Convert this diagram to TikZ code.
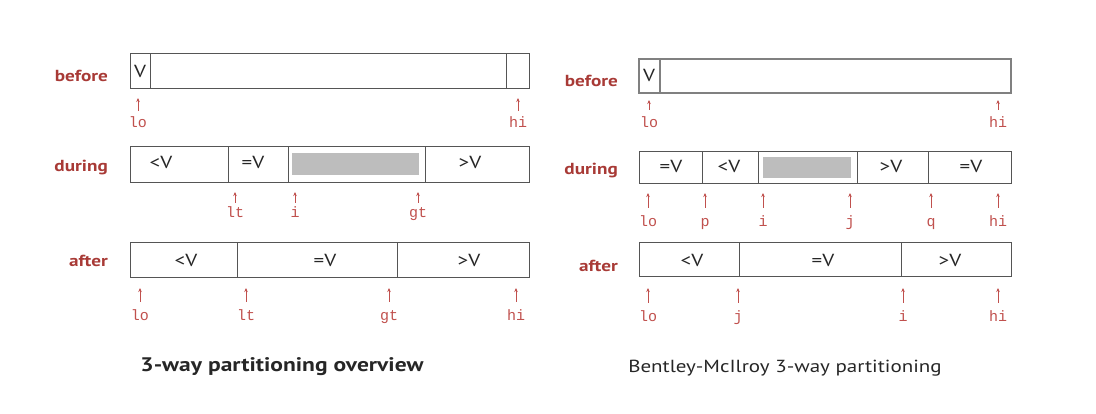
\documentclass[tikz,border=0pt]{standalone}
\usepackage{fontspec}
\setmainfont[FakeStretch=1.2]{PT Sans}
\newfontfamily\monof{Liberation Mono}
\usetikzlibrary{arrows.meta}
\definecolor{rowred}{HTML}{A83A36}
\definecolor{idxred}{HTML}{C0504D}
\definecolor{boxc}{HTML}{555555}
\definecolor{grayc}{HTML}{BDBDBD}
\begin{document}
\begin{tikzpicture}[x=1pt,y=-1pt,
  cell/.style={draw=boxc, line width=1pt, anchor=north west, inner sep=0pt, outer sep=0pt},
  grayfill/.style={fill=grayc, anchor=north west, inner sep=0pt, outer sep=0pt},
  ctext/.style={font=\fontsize{17.5}{17.5}\selectfont, text=black!85, inner sep=0pt},
  rowlab/.style={font=\fontsize{16}{16}\selectfont\bfseries, text=rowred, anchor=base east, inner sep=0pt},
  idx/.style={font=\fontsize{15}{15}\selectfont\monof, text=idxred, anchor=base, inner sep=0pt, text height=9pt, text depth=3pt},
  ptr/.style={draw=idxred, line width=0.7pt, -{Stealth[length=4pt,width=3.5pt]}},
  captext/.style={font=\fontsize{17.5}{17.5}\selectfont, text=black!85, anchor=base, inner sep=0pt}
]
\useasboundingbox (0,0) rectangle (1096,414);

% ---------------- left panel ----------------
% before
\node[rowlab] (Lbefore) at (108,82) {before};
\node[cell, minimum width=20pt, minimum height=35pt] (LB1) at (130,54) {};
\node[cell, minimum width=356pt, minimum height=35pt] (LB2) at (150,54) {};
\node[cell, minimum width=23pt, minimum height=35pt] (LB3) at (506,54) {};
\node[ctext] (LBv) at (140,71) {V};
\node[idx] (LBlo) at (138,128) {lo};
\node[idx] (LBhi) at (518,128) {hi};
\foreach \n in {LBlo,LBhi}{
  \draw[ptr] ([yshift=8pt]\n.north) -- ([yshift=-9pt]\n.north |- LB2.south);
}

% during
\node[rowlab] (Lduring) at (108,172) {during};
\node[cell, minimum width=98pt, minimum height=36pt] (LD1) at (130,147) {};
\node[cell, minimum width=60pt, minimum height=36pt] (LD2) at (228,147) {};
\node[cell, minimum width=137pt, minimum height=36pt] (LD3) at (288,147) {};
\node[cell, minimum width=104pt, minimum height=36pt] (LD4) at (425,147) {};
\node[grayfill, minimum width=127pt, minimum height=22pt] (LDg) at (292,153) {};
\node[ctext] (LDt1) at (161,162) {<V};
\node[ctext] (LDt2) at (253,162) {=V};
\node[ctext] (LDt4) at (470,162) {>V};
\node[idx] (LDlt) at (235,218) {lt};
\node[idx] (LDi) at (295,218) {i};
\node[idx] (LDgt) at (418,218) {gt};
\foreach \n in {LDlt,LDi,LDgt}{
  \draw[ptr] ([yshift=6pt]\n.north) -- ([yshift=-9pt]\n.north |- LD1.south);
}

% after
\node[rowlab] (Lafter) at (108,267) {after};
\node[cell, minimum width=107pt, minimum height=35pt] (LA1) at (130,243) {};
\node[cell, minimum width=160pt, minimum height=35pt] (LA2) at (237,243) {};
\node[cell, minimum width=132pt, minimum height=35pt] (LA3) at (397,243) {};
\node[ctext] (LAt1) at (186,260) {<V};
\node[ctext] (LAt2) at (325,260) {=V};
\node[ctext] (LAt3) at (469,260) {>V};
\node[idx] (LAlo) at (140,320) {lo};
\node[idx] (LAlt) at (246,320) {lt};
\node[idx] (LAgt) at (389,320) {gt};
\node[idx] (LAhi) at (516,320) {hi};
\foreach \n in {LAlo,LAlt,LAgt,LAhi}{
  \draw[ptr] ([yshift=9pt]\n.north) -- ([yshift=-10pt]\n.north |- LA1.south);
}

\node[captext, font=\fontsize{19.6}{19.6}\selectfont\bfseries] (Lcap) at (282,371) {3-way partitioning overview};

% ---------------- right panel ----------------
% before
\node[rowlab] (Rbefore) at (618,87) {before};
\node[cell, draw=gray, line width=1.3pt, minimum width=21pt, minimum height=34pt] (RB1) at (639,59) {};
\node[cell, draw=gray, line width=1.3pt, minimum width=351pt, minimum height=34pt] (RB2) at (660,59) {};
\node[ctext] (RBv) at (649,75) {V};
\node[idx] (RBlo) at (649,128) {lo};
\node[idx] (RBhi) at (998,128) {hi};
\foreach \n in {RBlo,RBhi}{
  \draw[ptr] ([yshift=9pt]\n.north) -- ([yshift=-7pt]\n.north |- RB2.south);
}

% during
\node[rowlab] (Rduring) at (618,175) {during};
\node[cell, minimum width=63pt, minimum height=32pt] (RD1) at (639,152) {};
\node[cell, minimum width=56pt, minimum height=32pt] (RD2) at (702,152) {};
\node[cell, minimum width=99pt, minimum height=32pt] (RD3) at (758,152) {};
\node[cell, minimum width=71pt, minimum height=32pt] (RD4) at (857,152) {};
\node[cell, minimum width=83pt, minimum height=32pt] (RD5) at (928,152) {};
\node[grayfill, minimum width=88pt, minimum height=21pt] (RDg) at (763,157) {};
\node[ctext] (RDt1) at (671,166) {=V};
\node[ctext] (RDt2) at (729,166) {<V};
\node[ctext] (RDt4) at (891,166) {>V};
\node[ctext] (RDt5) at (971,166) {=V};
\node[idx] (RDlo) at (648,227) {lo};
\node[idx] (RDp) at (705,227) {p};
\node[idx] (RDi) at (763,227) {i};
\node[idx] (RDj) at (850,227) {j};
\node[idx] (RDq) at (931,227) {q};
\node[idx] (RDhi) at (998,227) {hi};
\foreach \n in {RDlo,RDp,RDi,RDj,RDq,RDhi}{
  \draw[ptr] ([yshift=10pt]\n.north) -- ([yshift=-9pt]\n.north |- RD1.south);
}

% after
\node[rowlab] (Rafter) at (618,272) {after};
\node[cell, minimum width=100pt, minimum height=34pt] (RA1) at (639,243) {};
\node[cell, minimum width=162pt, minimum height=34pt] (RA2) at (739,243) {};
\node[cell, minimum width=110pt, minimum height=34pt] (RA3) at (901,243) {};
\node[ctext] (RAt1) at (692,260) {<V};
\node[ctext] (RAt2) at (823,260) {=V};
\node[ctext] (RAt3) at (950,260) {>V};
\node[idx] (RAlo) at (648,322) {lo};
\node[idx] (RAj) at (738,322) {j};
\node[idx] (RAi) at (903,322) {i};
\node[idx] (RAhi) at (998,322) {hi};
\foreach \n in {RAlo,RAj,RAi,RAhi}{
  \draw[ptr] ([yshift=10pt]\n.north) -- ([yshift=-11pt]\n.north |- RA1.south);
}

\node[captext] (Rcap) at (785,372) {Bentley-McIlroy 3-way partitioning};
\end{tikzpicture}
\end{document}
